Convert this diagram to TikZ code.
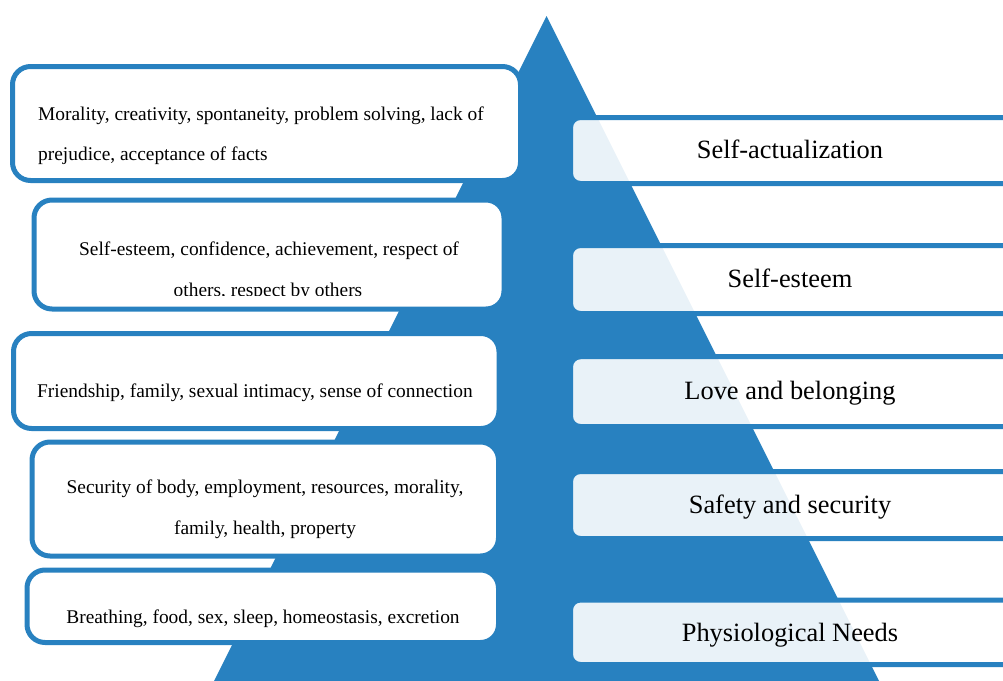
\documentclass[tikz,border=0pt]{standalone}
\usepackage{fontspec}
\setmainfont{Liberation Serif}
\definecolor{pyr}{RGB}{40,129,192}
\begin{document}
\begin{tikzpicture}[x=1pt,y=-1pt,
  leftbox/.style={draw=pyr,line width=5pt,fill=white,rounded corners=18pt},
  levelbox/.style={draw=pyr,line width=5pt,fill=white,fill opacity=0.9,rounded corners=10pt},
  need/.style={font=\fontsize{19.4}{19.4}\selectfont,anchor=base,inner sep=0pt},
  level/.style={font=\fontsize{26.4}{26.4}\selectfont,anchor=base,inner sep=0pt}]
\useasboundingbox (0,0) rectangle (1003,680);
\clip (0,0) rectangle (1003,680);
% pyramid
\fill[pyr] (546.5,16) -- (888.5,700) -- (204.5,700) -- cycle;
% level bands on the right
\draw[levelbox] (570.5,117.5) rectangle (1030,183.5);
\draw[levelbox] (570.5,245.5) rectangle (1030,313.5);
\draw[levelbox] (570.5,356.7) rectangle (1030,426.5);
\draw[levelbox] (570.5,471.5) rectangle (1030,538.5);
\draw[levelbox] (570.5,600) rectangle (1030,664.5);
% need boxes on the left
\draw[leftbox] (12.5,66.5) rectangle (520.5,180.5);
\draw[leftbox] (34,200) rectangle (504,309);
\draw[leftbox] (13.5,333.5) rectangle (499,428.5);
\draw[leftbox] (32,442) rectangle (498.5,556);
\draw[leftbox] (27,570) rectangle (498.5,642.5);
% level names
\node[level] (l1) at (790,158) {Self-actualization};
\node[level] (l2) at (790,287.3) {Self-esteem};
\node[level] (l3) at (790,399) {Love and belonging};
\node[level] (l4) at (790,513) {Safety and security};
\node[level] (l5) at (790,641.7) {Physiological Needs};
% needs
\node[need,anchor=base west] (n1a) at (38,120) {Morality, creativity, spontaneity, problem solving, lack of};
\node[need,anchor=base west] (n1b) at (38,160.4) {prejudice, acceptance of facts};
\node[need] (n2a) at (269,255) {Self-esteem, confidence, achievement, respect of};
\begin{scope}
  \clip (0,200) rectangle (600,295.5);
  \node[need] (n2b) at (268,296) {others, respect by others};
\end{scope}
\node[need,anchor=base west] (n3) at (37,397) {Friendship, family, sexual intimacy, sense of connection};
\node[need] (n4a) at (265,493) {Security of body, employment, resources, morality,};
\node[need] (n4b) at (265,534) {family, health, property};
\node[need] (n5) at (263,623.5) {Breathing, food, sex, sleep, homeostasis, excretion};
\end{tikzpicture}
\end{document}
